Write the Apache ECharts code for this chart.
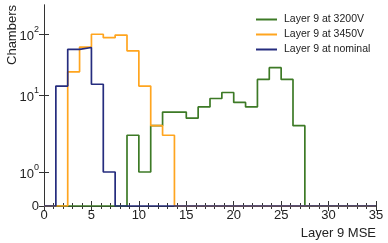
<!DOCTYPE html>
<html>
<head>
<meta charset="utf-8">
<script src="https://cdn.jsdelivr.net/npm/echarts@6/dist/echarts.min.js"></script>
<style>html,body{margin:0;padding:0;background:#fff;}#c{width:388px;height:243px;}</style>
</head>
<body>
<div id="c"></div>
<script>
// Bin left edges (bin width 1.25)
const binStarts = [0,1.25,2.5,3.75,5,6.25,7.5,8.75,10,11.25,12.5,13.75,15,16.25,17.5,18.75,20,21.25,22.5,23.75,25,26.25,27.5,28.75,30,31.25,32.5,33.75];
const xEnd = 35;
const seriesNames = ['Layer 9 at 3200V','Layer 9 at 3450V','Layer 9 at nominal'];
const green3200 = [0,0,0,0,0,0,0,3,1,4,6,6,5,7,9,11,8,7,18,28,18,4,0,0,0,0,0,0];
const orange3450 = [0,0,24,61,99,87,96,53,14,4,3,0,0,0,0,0,0,0,0,0,0,0,0,0,0,0,0,0];
const blueNominal = [0,14,56,60,15,1,0,0,0,0,0,0,0,0,0,0,0,0,0,0,0,0,0,0,0,0,0,0];
const yTickValues = [0,1,10,100];
const xTickLabels = [0,5,10,15,20,25,30,35];

// piecewise symlog-like scale: linear 0..1, then logarithmic decades (as in the reference axis)
const SEG0 = 34, SEG1 = 77, SEG2 = 61, Y_TOP = 201;
function T(v){
  if (v <= 1) return v*SEG0;
  const l = Math.log10(v);
  if (l <= 1) return SEG0 + l*SEG1;
  return SEG0 + SEG1 + (l-1)*SEG2;
}
const yTickPos = yTickValues.map(T);

function stepData(vals){
  const d = binStarts.map((x,i)=>[x, T(vals[i])]);
  d.push([xEnd, 0]);
  return d;
}
function yLabel(v){
  const i = yTickPos.findIndex(p => Math.abs(p - v) < 0.5);
  const val = yTickValues[i];
  if (val === 0) return '0';
  return '{b|10}{s|' + Math.round(Math.log10(val)) + '}';
}
const colors = ['#3d7a26','#ffa51f','#252c7e'];
const axisCol = '#333';
const font = 'Liberation Sans';

const chart = echarts.init(document.getElementById('c'), null, {renderer:'canvas'});
chart.setOption({
  animation:false,
  backgroundColor:'#fff',
  grid:{left:44, right:12, top:5, bottom:37},
  legend:{
    orient:'vertical', left:251, top:9, itemGap:4,
    icon:'rect', itemWidth:21, itemHeight:2,
    textStyle:{fontFamily:font, fontSize:10.5, color:'#222', padding:[0,0,0,2], lineHeight:11},
    data:seriesNames
  },
  xAxis:[{
    type:'value', min:0, max:35, interval:5, position:'bottom',
    axisLine:{show:true, lineStyle:{color:axisCol, width:1}},
    axisTick:{show:true, inside:true, length:5, lineStyle:{color:axisCol}},
    minorTick:{show:true, splitNumber:5, length:3, lineStyle:{color:axisCol}},
    splitLine:{show:false},
    axisLabel:{fontFamily:font, fontSize:13, color:'#222', margin:3,
      formatter:v=> xTickLabels.indexOf(v) >= 0 ? String(v) : ''}
  },{
    type:'value', min:0, max:35, interval:5, position:'top',
    axisLine:{show:true, lineStyle:{color:axisCol, width:1}},
    axisTick:{show:true, inside:true, length:5, lineStyle:{color:axisCol}},
    minorTick:{show:true, splitNumber:5, length:3, lineStyle:{color:axisCol}},
    splitLine:{show:false}, axisLabel:{show:false}
  }],
  yAxis:[{
    type:'value', min:0, max:Y_TOP, position:'left',
    axisLine:{show:true, lineStyle:{color:axisCol, width:1}},
    axisTick:{show:true, inside:true, length:5, customValues:yTickPos, lineStyle:{color:axisCol}},
    splitLine:{show:false},
    axisLabel:{show:true, customValues:yTickPos, margin:5, formatter:yLabel,
      fontFamily:font, fontSize:13, color:'#222',
      rich:{
        b:{fontFamily:font, fontSize:13, color:'#222', lineHeight:18, verticalAlign:'bottom'},
        s:{fontFamily:font, fontSize:9, color:'#222', lineHeight:18, verticalAlign:'top'}
      }}
  },{
    type:'value', min:0, max:Y_TOP, position:'right',
    axisLine:{show:true, lineStyle:{color:axisCol, width:1}},
    axisTick:{show:true, inside:true, length:5, customValues:yTickPos, lineStyle:{color:axisCol}},
    splitLine:{show:false}, axisLabel:{show:false}
  }],
  graphic:[
    {type:'text', x:12, y:35, rotation:Math.PI/2,
     style:{text:'Chambers', fontFamily:font, fontSize:13, fill:'#222', align:'center', verticalAlign:'middle'}},
    {type:'text', x:376, y:233,
     style:{text:'Layer 9 MSE', fontFamily:font, fontSize:13, fill:'#222', align:'right', verticalAlign:'middle'}}
  ],
  series:[
    {name:seriesNames[0], type:'line', step:'end', symbol:'none', data:stepData(green3200),
     lineStyle:{color:colors[0], width:1.7}, itemStyle:{color:colors[0]}, z:2},
    {name:seriesNames[1], type:'line', step:'end', symbol:'none', data:stepData(orange3450),
     lineStyle:{color:colors[1], width:1.7}, itemStyle:{color:colors[1]}, z:3},
    {name:seriesNames[2], type:'line', step:'end', symbol:'none', data:stepData(blueNominal),
     lineStyle:{color:colors[2], width:1.7}, itemStyle:{color:colors[2]}, z:4}
  ]
});
</script>
</body>
</html>
